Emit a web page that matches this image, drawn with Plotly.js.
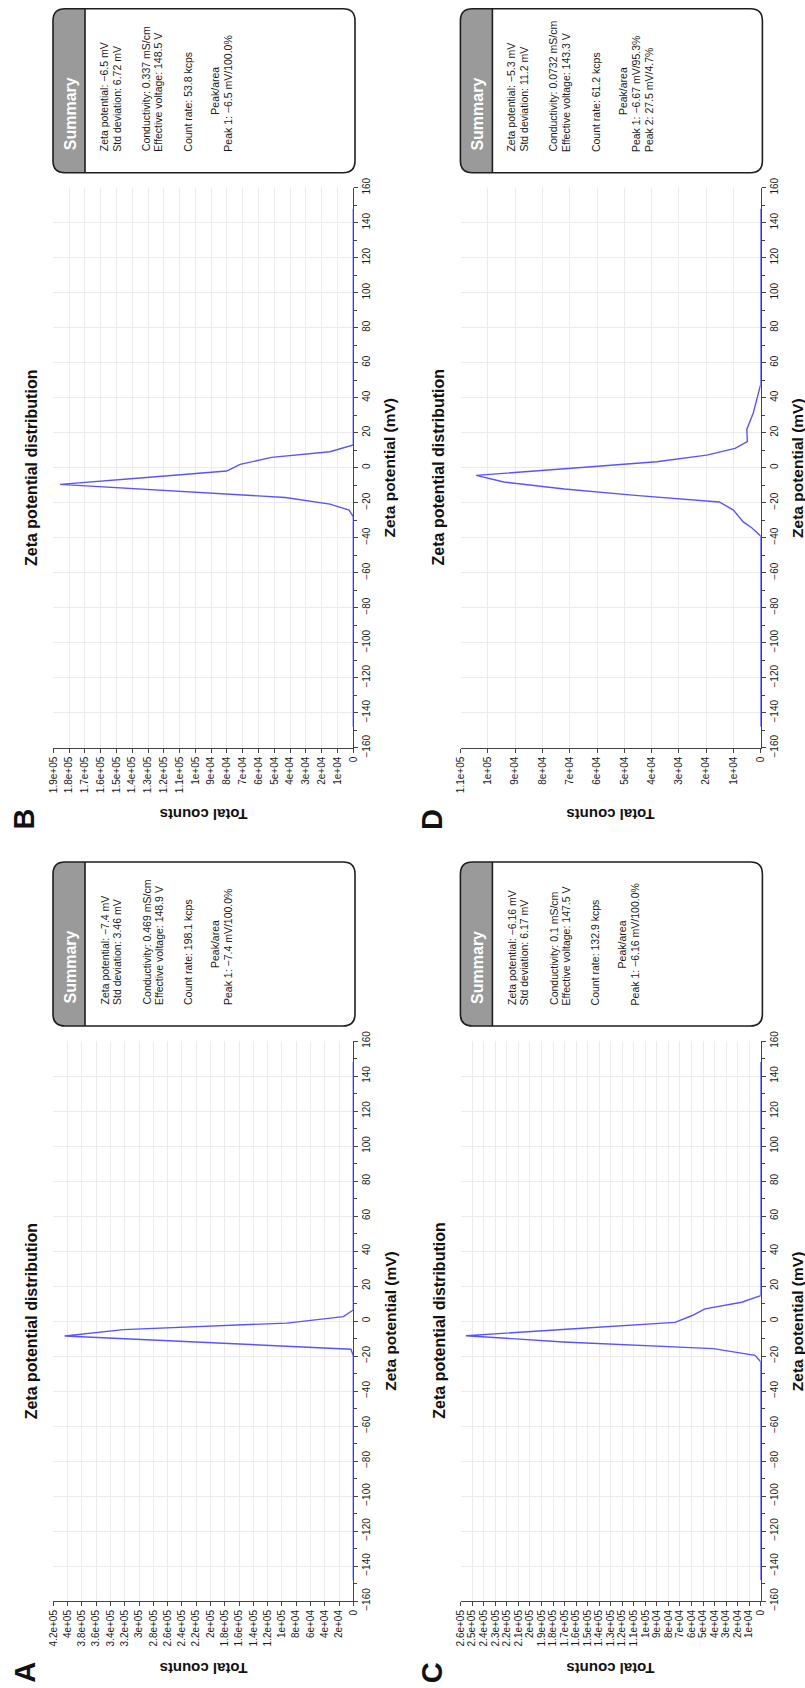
<!DOCTYPE html>
<html>
<head>
<meta charset="utf-8">
<script src="https://cdn.plot.ly/plotly-3.0.1.min.js"></script>
<style>
html,body{margin:0;padding:0;background:#ffffff;}
#chart{width:805px;height:1688px;}
</style>
</head>
<body>
<div id="chart"></div>
<script>
// ---------------- DATA ----------------
const panelNames = ['A', 'B', 'C', 'D'];

// Zeta potential (mV) and total counts for each sample
const zetaA   = [-148, -19.8, -16.1, -12.4, -8.6, -4.9, -1.2, 2.5, 6.3, 148];
const countsA = [0, 0, 3300, 200000, 404000, 322000, 93000, 14000, 0, 0];

const zetaB   = [-148, -28, -24.2, -20.8, -17.0, -13.0, -9.5, -5.7, -1.9, 1.9, 5.9, 9.1, 13, 148];
const countsB = [0, 0, 2700, 14800, 43000, 120000, 185700, 133000, 80200, 71700, 51700, 14800, 0, 0];

const zetaC   = [-148, -23.3, -19.6, -15.8, -12.0, -8.4, -4.6, -0.8, 3.0, 6.9, 10.7, 14.5, 148];
const countsC = [0, 0, 4900, 41000, 171000, 255500, 165000, 74300, 59800, 48300, 16500, 0, 0];

const zetaD   = [-148, -39, -34.3, -31, -24.2, -19.6, -15.8, -12.2, -8.2, -4.4, 0, 3.4, 7.2, 11, 14.9, 21.9, 31.4, 47.6, 148];
const countsD = [0, 0, 3300, 6400, 10000, 15200, 46000, 72000, 94200, 104300, 67000, 38200, 19800, 9400, 4900, 5100, 2700, 0, 0];

// Count axis maxima and tick steps
const countMax  = {A: 420000, B: 190000, C: 260000, D: 110000};
const countStep = {A: 20000,  B: 10000,  C: 10000,  D: 10000};

// Zeta axis
const zetaRange = [-160, 160];
const zetaTickStep = 20;

// Summary texts
const summaryA = ['Zeta potential: \u22127.4 mV', 'Std deviation: 3.46 mV', 'Conductivity: 0.469 mS/cm', 'Effective voltage: 148.9 V', 'Count rate: 198.1 kcps', 'Peak/area', 'Peak 1: \u22127.4 mV/100.0%'];
const summaryB = ['Zeta potential: \u22126.5 mV', 'Std deviation: 6.72 mV', 'Conductivity: 0.337 mS/cm', 'Effective voltage: 148.5 V', 'Count rate: 53.8 kcps', 'Peak/area', 'Peak 1: \u22126.5 mV/100.0%'];
const summaryC = ['Zeta potential: \u22126.16 mV', 'Std deviation: 6.17 mV', 'Conductivity: 0.1 mS/cm', 'Effective voltage: 147.5 V', 'Count rate: 132.9 kcps', 'Peak/area', 'Peak 1: \u22126.16 mV/100.0%'];
const summaryD = ['Zeta potential: \u22125.3 mV', 'Std deviation: 11.2 mV', 'Conductivity: 0.0732 mS/cm', 'Effective voltage: 143.3 V', 'Count rate: 61.2 kcps', 'Peak/area', 'Peak 1: \u22126.67 mV/95.3%', 'Peak 2: 27.5 mV/4.7%'];

const chartTitle = 'Zeta potential distribution';
const zetaTitle = 'Zeta potential (mV)';
const countTitle = 'Total counts';
const summaryTitle = 'Summary';

// ---------------- LAYOUT HELPERS ----------------
const W = 805, H = 1688;
const fx = p => p / W;
const fy = p => 1 - p / H;
const FONT = '"Liberation Sans", Arial, Helvetica, sans-serif';

const data = {A: [zetaA, countsA], B: [zetaB, countsB], C: [zetaC, countsC], D: [zetaD, countsD]};
const summaries = {A: summaryA, B: summaryB, C: summaryC, D: summaryD};

// plot-area pixel origin (left, top) of each panel; plot is 300 x 560 px
const place = {A: {px: 53.3, py: 1041}, B: {px: 53.3, py: 187.7}, C: {px: 460.7, py: 1041}, D: {px: 460.7, py: 187.7}};
const PW = 300, PH = 560;

function fmtCount(v) {
  if (v === 0) return '0';
  const e = Math.floor(Math.log10(v) + 1e-9);
  const m = Math.round(v / Math.pow(10, e) * 100) / 100;
  return m + 'e+' + (e < 10 ? '0' + e : e);
}

const traces = [];
const layout = {
  width: W, height: H,
  margin: {l: 0, r: 0, t: 0, b: 0, pad: 0},
  paper_bgcolor: '#ffffff',
  plot_bgcolor: '#ffffff',
  showlegend: false,
  font: {family: FONT, color: '#1a1a1a', size: 10},
  annotations: [],
  shapes: []
};

const lineOffsets = [51, 64, 93, 105.5, 135, 162, 175, 188];

panelNames.forEach((name, i) => {
  const k = i + 1;
  const sx = k === 1 ? '' : String(k);
  const {px, py} = place[name];
  const [zeta, counts] = data[name];

  traces.push({
    x: counts, y: zeta,
    xaxis: 'x' + sx, yaxis: 'y' + sx,
    type: 'scatter', mode: 'lines',
    line: {color: '#5656ff', width: 1.4},
    hoverinfo: 'skip', showlegend: false
  });

  const vals = [];
  const n = Math.round(countMax[name] / countStep[name]);
  for (let j = 0; j <= n; j++) vals.push(j * countStep[name]);

  layout['xaxis' + sx] = {
    domain: [fx(px), fx(px + PW)],
    anchor: 'y' + sx,
    range: [countMax[name], 0], autorange: false,
    tickmode: 'array', tickvals: vals, ticktext: vals.map(fmtCount),
    tickangle: -90,
    tickfont: {family: FONT, size: 10, color: '#1a1a1a'},
    ticks: 'outside', ticklen: 4, tickcolor: '#444444', tickwidth: 1,
    showline: true, linecolor: '#444444', linewidth: 1,
    showgrid: true, gridcolor: '#ebebeb', gridwidth: 1,
    zeroline: false, layer: 'below traces', fixedrange: true
  };
  layout['yaxis' + sx] = {
    domain: [fy(py + PH), fy(py)],
    anchor: 'x' + sx,
    side: 'right',
    range: zetaRange, autorange: false,
    tickmode: 'linear', tick0: 0, dtick: zetaTickStep,
    tickangle: -90,
    tickfont: {family: FONT, size: 10, color: '#1a1a1a'},
    ticks: 'outside', ticklen: 4, tickcolor: '#444444', tickwidth: 1,
    minor: {dtick: 10, tick0: 0, ticks: 'outside', ticklen: 3, tickcolor: '#444444', showgrid: false},
    showline: true, linecolor: '#444444', linewidth: 1,
    showgrid: true, gridcolor: '#ebebeb', gridwidth: 1,
    zeroline: false, layer: 'below traces', fixedrange: true
  };

  const cx = px + PW / 2, cy = py + PH / 2;
  // chart title
  layout.annotations.push({
    xref: 'paper', yref: 'paper', x: fx(px - 22), y: fy(cy),
    xanchor: 'center', yanchor: 'middle', textangle: -90, showarrow: false,
    text: '<b>' + chartTitle + '</b>', font: {family: FONT, size: 16, color: '#111111'}
  });
  // zeta axis title
  layout.annotations.push({
    xref: 'paper', yref: 'paper', x: fx(px + PW + 36.5), y: fy(cy),
    xanchor: 'center', yanchor: 'middle', textangle: -90, showarrow: false,
    text: '<b>' + zetaTitle + '</b>', font: {family: FONT, size: 15.5, color: '#111111'}
  });
  // counts axis title (upside down)
  layout.annotations.push({
    xref: 'paper', yref: 'paper', x: fx(cx), y: fy(py + PH + 67.5),
    xanchor: 'center', yanchor: 'middle', textangle: 180, showarrow: false,
    text: '<b>' + countTitle + '</b>', font: {family: FONT, size: 15, color: '#111111'}
  });
  // panel letter
  layout.annotations.push({
    xref: 'paper', yref: 'paper', x: fx(px - 29), y: fy(py + PH + 71.5),
    xanchor: 'center', yanchor: 'middle', textangle: -90, showarrow: false,
    text: '<b>' + name + '</b>', font: {family: FONT, size: 29, color: '#111111'}
  });

  // summary box
  const bx0 = px - 0.3, bx1 = px + 301.7, by0 = py - 179, by1 = py - 15;
  const xh = bx0 + 32, r = 12;
  const rx = r, ry = r;
  const P = (a, b) => fx(a) + ',' + fy(b);
  const outer = 'M ' + P(bx0 + rx, by0) + ' L ' + P(bx1 - rx, by0) + ' Q ' + P(bx1, by0) + ' ' + P(bx1, by0 + ry) +
    ' L ' + P(bx1, by1 - ry) + ' Q ' + P(bx1, by1) + ' ' + P(bx1 - rx, by1) +
    ' L ' + P(bx0 + rx, by1) + ' Q ' + P(bx0, by1) + ' ' + P(bx0, by1 - ry) +
    ' L ' + P(bx0, by0 + ry) + ' Q ' + P(bx0, by0) + ' ' + P(bx0 + rx, by0) + ' Z';
  const header = 'M ' + P(bx0 + rx, by0) + ' L ' + P(xh, by0) + ' L ' + P(xh, by1) +
    ' L ' + P(bx0 + rx, by1) + ' Q ' + P(bx0, by1) + ' ' + P(bx0, by1 - ry) +
    ' L ' + P(bx0, by0 + ry) + ' Q ' + P(bx0, by0) + ' ' + P(bx0 + rx, by0) + ' Z';
  layout.shapes.push({type: 'path', xref: 'paper', yref: 'paper', path: outer, fillcolor: '#ffffff', line: {width: 0}});
  layout.shapes.push({type: 'path', xref: 'paper', yref: 'paper', path: header, fillcolor: '#9a9a9a', line: {width: 0}});
  layout.shapes.push({type: 'path', xref: 'paper', yref: 'paper', path: outer, fillcolor: 'rgba(0,0,0,0)', line: {color: '#1e1e1e', width: 1.6}});
  layout.shapes.push({type: 'line', xref: 'paper', yref: 'paper', x0: fx(xh), x1: fx(xh), y0: fy(by0), y1: fy(by1), line: {color: '#1e1e1e', width: 1.6}});

  layout.annotations.push({
    xref: 'paper', yref: 'paper', x: fx(bx0 + 17), y: fy(by1 - 20),
    xanchor: 'center', yanchor: 'bottom', textangle: -90, showarrow: false,
    text: '<b>' + summaryTitle + '</b>', font: {family: FONT, size: 16, color: '#ffffff'}
  });
  summaries[name].forEach((t, j) => {
    const centered = (t === 'Peak/area');
    layout.annotations.push({
      xref: 'paper', yref: 'paper', x: fx(bx0 + lineOffsets[j]),
      y: centered ? fy((by0 + by1) / 2) : fy(by1 - 20),
      xanchor: 'center', yanchor: centered ? 'middle' : 'bottom',
      textangle: -90, showarrow: false, borderpad: 0,
      text: t, font: {family: FONT, size: 10.5, color: '#1a1a1a'}
    });
  });
});

Plotly.newPlot('chart', traces, layout, {staticPlot: true, displayModeBar: false});
</script>
</body>
</html>
